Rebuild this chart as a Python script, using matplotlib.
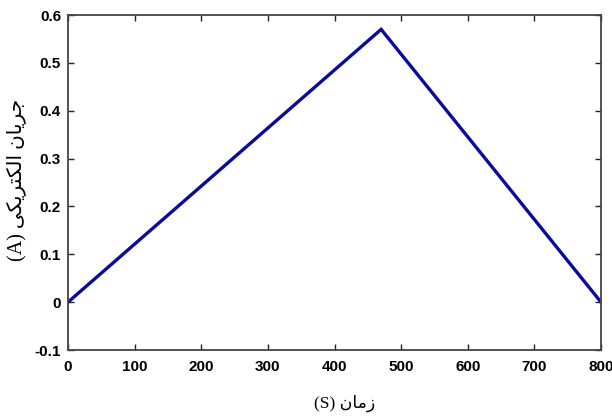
import matplotlib
matplotlib.use("Agg")
import matplotlib.pyplot as plt

# data
time_s = [0, 470, 800]
current_a = [0.0, 0.57, 0.0]
xticks = [0, 100, 200, 300, 400, 500, 600, 700, 800]
yticks = [-0.1, 0, 0.1, 0.2, 0.3, 0.4, 0.5, 0.6]
ytick_labels = ["-0.1", "0", "0.1", "0.2", "0.3", "0.4", "0.5", "0.6"]

# Persian labels written in visual order with presentation forms (no shaping engine in matplotlib)
xlabel_text = "(S) \uFEE5\uFE8E\uFEE3\uFEAF"  # زمان (S)
ylabel_text = ("(A) "
               "\uFBFD\uFB91\uFBFE\uFEAE\uFE98\uFB91\uFEDF\uFE8D"  # الکتریکی
               " "
               "\uFEE5\uFE8E\uFBFE\uFEAE\uFE9F")  # جریان

fig = plt.figure(figsize=(6.12, 4.18), dpi=100)
ax = fig.add_axes([68/612, 1 - 350/418, (601-68)/612, (350-15)/418])
ax.plot(time_s, current_a, color="#0a0a9c", lw=2.4, solid_joinstyle="miter")
ax.set_xlim(0, 800)
ax.set_ylim(-0.1, 0.6)
ax.set_xticks(xticks)
ax.set_xticklabels([str(v) for v in xticks])
ax.set_yticks(yticks)
ax.set_yticklabels(ytick_labels)
for s in ax.spines.values():
    s.set_color("#444444")
    s.set_linewidth(1.3)
ax.tick_params(direction="in", length=4, width=1, color="#222222",
               top=True, right=True, labelsize=11)
ax.tick_params(axis="x", pad=7)
ax.tick_params(axis="y", pad=5)
for lab in ax.get_xticklabels() + ax.get_yticklabels():
    lab.set_fontfamily("Liberation Sans")
    lab.set_fontweight("bold")

fam = ["Liberation Serif", "DejaVu Sans"]
fig.text(345/612, 1 - 403/418, xlabel_text, family=fam, fontsize=12.5,
         ha="center", va="center")
fig.text(16/612, 1 - 180/418, ylabel_text, family=fam, fontsize=14.5,
         ha="center", va="center", rotation=90)

fig.savefig("out.png", dpi=100)
